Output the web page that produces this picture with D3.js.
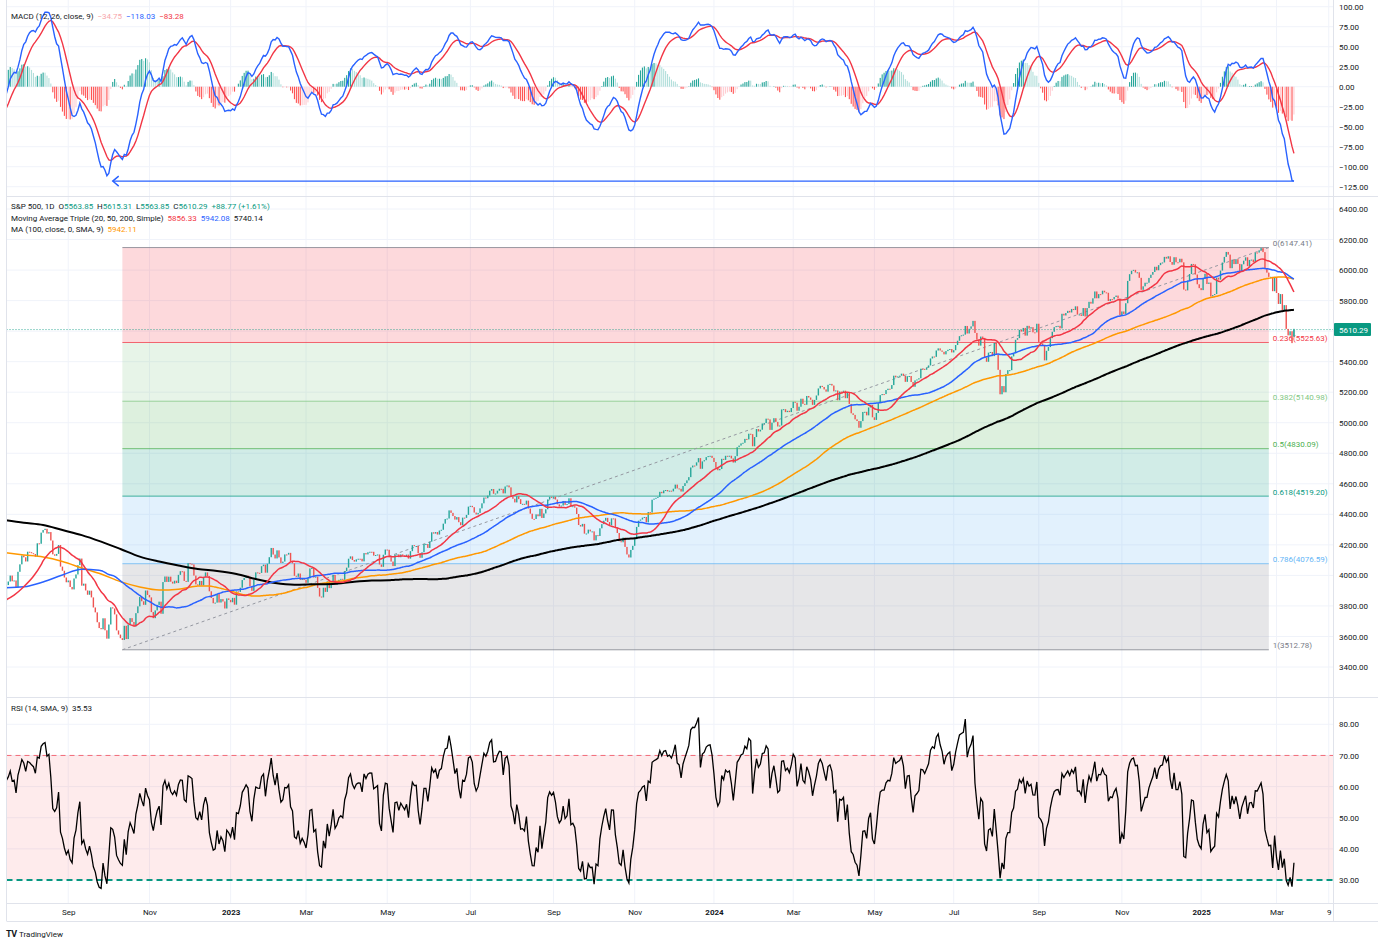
<!DOCTYPE html>
<html lang="en">
<head>
<meta charset="UTF-8">
<title>S&P 500, 1D</title>
<script src="https://d3js.org/d3.v7.min.js"></script>
<style>
  body { margin: 0; background: #fff; }
  svg text { font-family: Roboto, "Noto Sans", sans-serif; }
</style>
</head>
<body>
<script>
// ---- data -------------------------------------------------------------
// daily closes, one row per month, first bar 2022-07-18
const firstDay = '2022-07-18';
const firstOpen = 3863.16;
const holidays = ['2022-09-05','2022-11-24','2022-12-26',
  '2023-01-02','2023-01-16','2023-02-20','2023-04-07','2023-05-29','2023-06-19','2023-07-04','2023-09-04','2023-11-23','2023-12-25',
  '2024-01-01','2024-01-15','2024-02-19','2024-03-29','2024-05-27','2024-06-19','2024-07-04','2024-09-02','2024-11-28','2024-12-25',
  '2025-01-01','2025-01-09','2025-01-20','2025-02-17'];

const closes2022 = [
  3830.85,3936.69,3959.90,3998.95,3961.63,3966.84,3921.05,4023.61,4072.43,4130.29,
  4118.63,4091.19,4155.17,4151.94,4145.19,4140.06,4122.47,4210.24,4207.27,4280.15,4297.14,4305.20,4274.04,4283.74,4228.48,4137.99,4128.73,4140.77,4199.12,4057.66,4030.61,3986.16,3955.00,
  3966.85,3924.26,3908.19,3979.87,4006.18,4067.36,4110.41,3932.69,3946.01,3901.35,3873.33,3899.89,3855.93,3789.93,3757.99,3693.23,3655.04,3647.29,3719.04,3640.47,3585.62,
  3678.43,3790.93,3783.28,3744.52,3639.66,3612.39,3588.84,3577.03,3669.91,3583.07,3677.95,3719.98,3695.16,3665.78,3752.75,3797.34,3859.11,3830.60,3807.30,3901.06,3871.98,
  3856.10,3759.69,3719.89,3770.55,3806.80,3828.11,3748.57,3956.37,3992.93,3957.25,3991.73,3958.79,3946.56,3965.34,3949.94,4003.58,4027.26,4026.12,3963.94,3957.63,4080.11,
  4076.57,4071.70,3998.84,3941.26,3933.92,3963.51,3934.38,3990.56,4019.65,3995.32,3895.75,3852.36,3817.66,3821.62,3878.44,3822.39,3844.82,3829.25,3783.22,3849.28,3839.50
];
const closes2023 = [
  3824.14,3852.97,3808.10,3895.08,3892.09,3919.25,3969.61,3983.17,3999.09,3990.97,3928.86,3898.85,3972.61,4019.81,4016.95,4016.22,4060.43,4070.56,4017.77,4076.60,
  4119.21,4179.76,4136.48,4111.08,4164.00,4117.86,4081.50,4090.46,4137.29,4136.13,4147.60,4090.41,4079.09,3997.34,3991.05,4012.32,3970.04,3982.24,3970.15,
  3951.39,3981.35,4045.64,4048.42,3986.37,3992.01,3918.32,3861.59,3855.76,3919.29,3891.93,3960.28,3916.64,3951.57,4002.87,3936.97,3948.72,3970.99,3977.53,3971.27,4027.81,4050.83,4109.31,
  4124.51,4100.60,4090.38,4105.02,4109.11,4108.94,4091.95,4146.22,4137.64,4151.32,4154.87,4154.52,4129.79,4133.52,4137.04,4071.63,4055.99,4135.35,4169.48,
  4167.87,4119.58,4090.75,4061.22,4136.25,4138.12,4119.17,4137.64,4130.62,4124.08,4136.28,4109.90,4158.77,4198.05,4191.98,4192.63,4145.58,4115.24,4151.28,4205.45,4205.52,4179.83,
  4221.02,4282.37,4273.79,4283.85,4267.52,4293.93,4298.86,4338.93,4369.01,4372.59,4425.84,4409.59,4388.71,4365.69,4381.89,4348.33,4328.82,4378.41,4376.86,4396.44,4450.38,
  4455.59,4446.82,4411.59,4398.95,4409.53,4439.26,4472.16,4510.04,4505.42,4522.79,4554.98,4565.72,4534.87,4536.34,4554.64,4567.46,4566.75,4537.41,4582.23,4588.96,
  4576.73,4513.39,4501.89,4478.03,4518.44,4499.38,4467.71,4468.83,4464.05,4489.72,4437.86,4404.33,4370.36,4369.71,4399.77,4387.55,4436.01,4376.31,4405.71,4433.31,4497.63,4514.87,4507.66,
  4515.77,4496.83,4465.48,4451.14,4457.49,4487.46,4461.90,4467.44,4505.10,4450.32,4453.53,4443.95,4402.20,4330.00,4320.06,4337.44,4273.53,4274.51,4299.70,4288.05,
  4288.39,4229.45,4263.75,4258.19,4308.50,4335.66,4358.24,4376.95,4349.61,4327.78,4373.63,4373.20,4314.60,4278.00,4224.16,4217.04,4247.68,4186.77,4137.23,4117.37,4166.82,4193.80,
  4237.86,4317.78,4358.34,4365.98,4378.38,4382.78,4347.35,4415.24,4411.55,4495.70,4502.88,4508.24,4514.02,4547.38,4538.19,4556.62,4559.34,4550.43,4554.89,4550.58,4567.80,
  4594.63,4569.78,4567.18,4549.34,4585.59,4604.37,4622.44,4643.70,4707.09,4719.55,4719.19,4740.56,4768.37,4698.35,4746.75,4754.63,4774.75,4781.58,4783.35,4769.83
];
const closes2024 = [
  4742.83,4704.81,4688.68,4697.24,4763.54,4756.50,4783.45,4780.24,4783.83,4765.98,4739.21,4780.94,4839.81,4850.43,4864.60,4868.55,4894.16,4890.97,4927.93,4924.97,4845.65,
  4906.19,4958.61,4942.81,4954.23,4995.06,4997.91,5026.61,5021.84,4953.17,5000.62,5029.73,5005.57,4975.51,4981.80,5087.03,5088.80,5069.53,5078.18,5069.76,5096.27,
  5137.08,5130.95,5078.65,5104.76,5157.36,5123.69,5117.94,5175.27,5165.31,5150.48,5117.09,5149.42,5178.51,5224.62,5241.53,5234.18,5218.19,5203.58,5248.49,5254.35,
  5243.77,5205.81,5211.49,5147.21,5204.34,5202.39,5209.91,5160.64,5199.06,5123.41,5061.82,5051.41,5022.21,5011.12,4967.23,5010.60,5070.55,5071.63,5048.42,5099.96,5116.17,5035.69,
  5018.39,5064.20,5127.79,5180.74,5187.70,5187.67,5214.08,5222.68,5221.42,5246.68,5308.15,5297.10,5303.27,5308.13,5321.41,5307.01,5267.84,5304.72,5306.04,5266.95,5235.48,5277.51,
  5283.40,5291.34,5354.03,5352.96,5346.99,5360.79,5375.32,5421.03,5433.74,5431.60,5473.23,5487.03,5473.17,5464.62,5447.87,5469.30,5477.90,5482.87,5460.48,
  5475.09,5509.01,5537.02,5567.19,5572.85,5576.98,5633.91,5584.54,5615.35,5631.22,5667.20,5588.27,5544.59,5505.00,5564.41,5555.74,5427.13,5399.22,5459.10,5463.54,5436.44,5522.30,
  5446.68,5346.56,5186.33,5240.03,5199.50,5319.31,5344.16,5344.39,5434.43,5455.21,5543.22,5554.25,5608.25,5597.12,5620.85,5570.64,5634.61,5616.84,5625.80,5592.18,5591.96,5648.40,
  5528.93,5520.07,5503.41,5408.42,5471.05,5495.52,5554.13,5595.76,5626.02,5633.09,5634.58,5618.26,5713.64,5702.55,5718.57,5732.93,5722.26,5745.37,5738.17,5762.48,
  5708.75,5709.54,5699.94,5751.07,5695.94,5751.13,5792.04,5780.05,5815.03,5859.85,5815.26,5842.47,5841.47,5864.67,5853.98,5851.20,5797.42,5809.86,5808.12,5823.52,5832.92,5813.67,5705.45,
  5728.80,5712.69,5782.76,5929.04,5973.10,5995.54,6001.35,5983.99,5985.38,5949.17,5870.62,5893.62,5916.98,5917.11,5948.71,5969.34,5987.37,6021.63,5998.74,6032.38,
  6047.15,6049.88,6086.49,6075.11,6090.27,6052.85,6034.91,6084.19,6051.25,6051.09,6074.08,6050.61,5872.16,5867.08,5930.85,5974.07,6040.04,6037.59,5970.84,5906.94,5881.63
];
const closes2025 = [
  5868.55,5942.47,5975.38,5909.03,5918.25,5827.04,5836.22,5842.91,5949.91,5937.34,5996.66,6049.24,6086.37,6118.71,6101.24,6012.28,6067.70,6039.31,6071.17,6040.53,
  5994.57,6037.88,6061.48,6083.57,6025.99,6066.44,6068.50,6051.97,6115.07,6114.63,6129.58,6144.15,6117.52,6013.13,5983.25,5955.25,5956.06,5861.57,5954.50,
  5849.72,5778.15,5842.63,5738.52,5770.20,5614.56,5572.07,5599.30,5521.52,5610.29
];
const lastBar = { o: 5563.85, h: 5615.31, l: 5563.85, c: 5610.29 };

// moving averages: values before the window is full
const maSpecs = [
  { key: 'ma100', period: 100, leadStep: 10, lead: [4149,4134,4120,4091,4049,4009,3959,3924,3904,3910] },
  { key: 'sma200', period: 200, leadStep: 10, lead: [4363,4345,4330,4297,4264,4221,4173,4123,4091,4065,4042,4029,4009,3976,3950,3939,3942,3944,3957,3966] },
  { key: 'sma50', period: 50, leadStep: 10, lead: [3918,3925,3957,4003,4040] },
  { key: 'sma20', period: 20, leadStep: 5, lead: [3835,3871,3926,3994] }
];
// indicator state on the first bar
const macdSeed = { ema12: 3848, ema26: 3865, signal: -31 };
const rsiSeed = { avgGain: 31, avgLoss: 24 };

// fibonacci retracement drawing
const fibStart = '2022-10-12', fibEnd = '2025-02-25';
const fibLevels = [0, 0.236, 0.382, 0.5, 0.618, 0.786, 1];
const fibPrices = [6147.41, 5525.63, 5140.98, 4830.09, 4519.20, 4076.59, 3512.78];

// arrow drawn in the MACD pane
const macdArrow = { from: '2025-03-14', to: '2022-10-05', value: -118.03 };

const timeTicks = [['2022-09-01','Sep'],['2022-11-01','Nov'],['2023-01-03','2023'],['2023-03-01','Mar'],['2023-05-01','May'],
  ['2023-07-03','Jul'],['2023-09-01','Sep'],['2023-11-01','Nov'],['2024-01-02','2024'],['2024-03-01','Mar'],['2024-05-01','May'],
  ['2024-07-01','Jul'],['2024-09-03','Sep'],['2024-11-01','Nov'],['2025-01-02','2025'],['2025-03-03','Mar'],['2025-04-09','9']];

const macdLegend = ['−34.75', '−118.03', '−83.28'];
const ohlcLegend = [['O','5563.85'],['H','5615.31'],['L','5563.85'],['C','5610.29']];
const changeLegend = '+88.77 (+1.61%)';
const maLegend = ['5856.33', '5942.08', '5740.14'];
const ma100Legend = '5942.11';
const rsiLegend = '35.53';

// ---- derived ----------------------------------------------------------
const closes = closes2022.concat(closes2023, closes2024, closes2025);
const last = closes.length - 1;
const futureBars = 21;

const hol = new Set(holidays);
const dates = [];
for (let t = Date.parse(firstDay + 'T00:00:00Z'); dates.length < closes.length + futureBars; t += 86400000) {
  const d = new Date(t), wd = d.getUTCDay(), iso = d.toISOString().slice(0, 10);
  if (wd !== 0 && wd !== 6 && !hol.has(iso)) dates.push(iso);
}
const bar = iso => dates.indexOf(iso);

const bars = closes.map((c, i) => ({ i, o: i ? closes[i - 1] : firstOpen, c, h: null, l: null }));
Object.assign(bars[last], lastBar);

const maLines = {};
maSpecs.forEach(s => {
  const pts = s.lead.map((v, k) => [k * s.leadStep, v]);
  let sum = 0;
  closes.forEach((c, i) => {
    sum += c;
    if (i >= s.period) sum -= closes[i - s.period];
    if (i >= s.period - 1) pts.push([i, sum / s.period]);
  });
  maLines[s.key] = pts;
});

const macd = [], signal = [], hist = [];
let e12 = macdSeed.ema12, e26 = macdSeed.ema26, sig = macdSeed.signal;
closes.forEach((c, i) => {
  if (i > 0) {
    e12 += (c - e12) * 2 / 13;
    e26 += (c - e26) * 2 / 27;
  }
  const m = e12 - e26;
  if (i > 0) sig += (m - sig) * 2 / 10;
  macd.push(m); signal.push(sig); hist.push(m - sig);
});

const rsi = [];
let ag = rsiSeed.avgGain, al = rsiSeed.avgLoss;
closes.forEach((c, i) => {
  if (i > 0) {
    const ch = c - closes[i - 1];
    ag = (ag * 13 + Math.max(ch, 0)) / 14;
    al = (al * 13 + Math.max(-ch, 0)) / 14;
  }
  rsi.push(100 - 100 / (1 + ag / al));
});

// ---- layout -----------------------------------------------------------
const W = 1378, H = 944;
const axisX = 1333, plotLeft = 6.5;
const panes = {
  macd: { top: 0, bottom: 196 },
  main: { top: 197, bottom: 697 },
  rsi: { top: 698, bottom: 903 }
};
const timeBottom = 921;
const grid = '#f0f3fa', border = '#e0e3eb', txt = '#131722';
const up = '#26a69a', down = '#ef5350';
const maColors = { sma20: '#f23645', sma50: '#2962ff', sma200: '#000000', ma100: '#ff9800' };
const fibColors = ['#787b86', '#f23645', '#81c784', '#4caf50', '#089981', '#64b5f6', '#787b86'];

const svg = d3.select('body').append('svg').attr('width', W).attr('height', H);

const x = d3.scaleLinear().domain([-2.3, last + 20.2]).range([0, axisX]);
const yMacd = d3.scaleLinear().domain([-125, 100]).range([186.7, 6.7]);
const yMain = d3.scaleLinear().domain([3400, 6400]).range([667, 209]);
const yRsi = d3.scaleLinear().domain([30, 80]).range([880, 724.3]);

const defs = svg.append('defs');
Object.entries(panes).forEach(([k, p]) => {
  defs.append('clipPath').attr('id', 'clip-' + k)
    .append('rect').attr('x', plotLeft).attr('y', p.top).attr('width', axisX - plotLeft).attr('height', p.bottom - p.top);
});

const tickBars = timeTicks.map(t => bar(t[0]));

// vertical grid
svg.append('g').selectAll('line').data(tickBars).join('line')
  .attr('x1', d => x(d)).attr('x2', d => x(d)).attr('y1', 0).attr('y2', panes.rsi.bottom)
  .attr('stroke', grid);

function hGrid(scale, ticks) {
  svg.append('g').selectAll('line').data(ticks).join('line')
    .attr('x1', plotLeft).attr('x2', axisX).attr('y1', d => scale(d)).attr('y2', d => scale(d))
    .attr('stroke', grid);
}
const macdTicks = d3.range(-125, 101, 25);
const mainTicks = d3.range(3400, 6401, 200);
const rsiTicks = d3.range(30, 81, 10);
hGrid(yMacd, macdTicks);
hGrid(yMain, mainTicks);
hGrid(yRsi, rsiTicks);

// ---- MACD pane --------------------------------------------------------
const gM = svg.append('g').attr('clip-path', 'url(#clip-macd)');
gM.selectAll('rect').data(hist).join('rect')
  .attr('x', (d, i) => x(i) - 0.55).attr('width', 1.1)
  .attr('y', d => Math.min(yMacd(d), yMacd(0)))
  .attr('height', d => Math.abs(yMacd(d) - yMacd(0)))
  .attr('fill', (d, i) => {
    const p = i ? hist[i - 1] : d;
    if (d >= 0) return d >= p ? '#26a69a' : '#b2dfdb';
    return d < p ? '#ff5252' : '#ffcdd2';
  });
const lineIdx = d3.line().x((d, i) => x(i));
gM.append('path').datum(signal).attr('fill', 'none').attr('stroke', '#f23645').attr('stroke-width', 1.4)
  .attr('d', lineIdx.y(d => yMacd(d)));
gM.append('path').datum(macd).attr('fill', 'none').attr('stroke', '#2962ff').attr('stroke-width', 1.4)
  .attr('d', lineIdx.y(d => yMacd(d)));
{
  const ax = x(bar(macdArrow.to)), bx = x(bar(macdArrow.from)), ay = yMacd(macdArrow.value);
  gM.append('line').attr('x1', ax).attr('x2', bx).attr('y1', ay).attr('y2', ay)
    .attr('stroke', '#2962ff').attr('stroke-width', 1.4);
  gM.append('path').attr('d', `M${ax + 6},${ay - 5}L${ax},${ay}L${ax + 6},${ay + 5}`)
    .attr('fill', 'none').attr('stroke', '#2962ff').attr('stroke-width', 1.4);
}

// ---- main pane --------------------------------------------------------
const g = svg.append('g').attr('clip-path', 'url(#clip-main)');
const fx0 = x(bar(fibStart)), fx1 = x(bar(fibEnd));
for (let k = 0; k < fibLevels.length - 1; k++) {
  g.append('rect').attr('x', fx0).attr('width', fx1 - fx0)
    .attr('y', yMain(fibPrices[k])).attr('height', yMain(fibPrices[k + 1]) - yMain(fibPrices[k]))
    .attr('fill', fibColors[k + 1]).attr('fill-opacity', 0.19);
}
g.selectAll('line.fib').data(fibPrices).join('line').attr('class', 'fib')
  .attr('x1', fx0).attr('x2', fx1).attr('y1', d => yMain(d)).attr('y2', d => yMain(d))
  .attr('stroke', (d, k) => fibColors[k]).attr('stroke-width', 1).attr('stroke-opacity', 0.75);
g.selectAll('text.fib').data(fibPrices).join('text').attr('class', 'fib')
  .attr('x', fx1 + 4).attr('y', d => yMain(d) - 1.5)
  .attr('fill', (d, k) => fibColors[k]).attr('font-size', 8)
  .text((d, k) => `${fibLevels[k]}(${d.toFixed(2)})`);
g.append('line')
  .attr('x1', fx0).attr('y1', yMain(fibPrices[fibPrices.length - 1]))
  .attr('x2', fx1).attr('y2', yMain(fibPrices[0]))
  .attr('stroke', '#9598a1').attr('stroke-dasharray', '3,3');

// last price line
g.append('line').attr('x1', plotLeft).attr('x2', axisX)
  .attr('y1', yMain(lastBar.c)).attr('y2', yMain(lastBar.c))
  .attr('stroke', '#089981').attr('stroke-dasharray', '1,2').attr('stroke-opacity', 0.8);

// candles
g.selectAll('line.wick').data(bars.filter(b => b.h !== null)).join('line').attr('class', 'wick')
  .attr('x1', d => x(d.i)).attr('x2', d => x(d.i)).attr('y1', d => yMain(d.h)).attr('y2', d => yMain(d.l))
  .attr('stroke', d => d.c >= d.o ? up : down);
g.selectAll('rect.candle').data(bars).join('rect').attr('class', 'candle')
  .attr('x', d => x(d.i) - 0.7).attr('width', 1.4)
  .attr('y', d => yMain(Math.max(d.o, d.c)))
  .attr('height', d => Math.max(1, Math.abs(yMain(d.o) - yMain(d.c))))
  .attr('fill', d => d.c >= d.o ? up : down);

const maLine = d3.line().x(d => x(d[0])).y(d => yMain(d[1])).curve(d3.curveMonotoneX);
['ma100', 'sma200', 'sma50', 'sma20'].forEach(k => {
  g.append('path').datum(maLines[k]).attr('fill', 'none')
    .attr('stroke', maColors[k]).attr('stroke-width', k === 'sma200' ? 2 : 1.5)
    .attr('d', maLine);
});

// ---- RSI pane ---------------------------------------------------------
const gR = svg.append('g').attr('clip-path', 'url(#clip-rsi)');
gR.append('rect').attr('x', plotLeft).attr('width', axisX - plotLeft)
  .attr('y', yRsi(70)).attr('height', yRsi(30) - yRsi(70))
  .attr('fill', '#f23645').attr('fill-opacity', 0.1);
gR.append('line').attr('x1', plotLeft).attr('x2', axisX).attr('y1', yRsi(70)).attr('y2', yRsi(70))
  .attr('stroke', '#f23645').attr('stroke-opacity', 0.7).attr('stroke-dasharray', '5,4');
gR.append('line').attr('x1', plotLeft).attr('x2', axisX).attr('y1', yRsi(30)).attr('y2', yRsi(30))
  .attr('stroke', '#089981').attr('stroke-width', 2).attr('stroke-dasharray', '6,4');
gR.append('path').datum(rsi).attr('fill', 'none').attr('stroke', '#000').attr('stroke-width', 1.3)
  .attr('d', d3.line().x((d, i) => x(i)).y(d => yRsi(d)));

// ---- borders ----------------------------------------------------------
[panes.macd.bottom + 0.5, panes.main.bottom + 0.5, panes.rsi.bottom + 0.5, timeBottom + 0.5].forEach(yy => {
  svg.append('line').attr('x1', plotLeft).attr('x2', W).attr('y1', yy).attr('y2', yy).attr('stroke', border);
});
svg.append('line').attr('x1', axisX + 0.5).attr('x2', axisX + 0.5).attr('y1', 0).attr('y2', timeBottom).attr('stroke', border);
svg.append('line').attr('x1', plotLeft).attr('x2', plotLeft).attr('y1', 0).attr('y2', timeBottom).attr('stroke', border);

// ---- axes -------------------------------------------------------------
function priceAxis(scale, ticks) {
  const a = svg.append('g').attr('transform', `translate(${axisX},0)`)
    .call(d3.axisRight(scale).tickValues(ticks).tickFormat(d3.format('.2f')).tickSize(0).tickPadding(6));
  a.select('.domain').remove();
  a.attr('font-size', 8).attr('font-family', 'Roboto, sans-serif');
  a.selectAll('text').attr('fill', txt);
}
priceAxis(yMacd, macdTicks);
priceAxis(yMain, mainTicks.filter(v => Math.abs(yMain(v) - yMain(lastBar.c)) > 9));
priceAxis(yRsi, rsiTicks);

// last price tag
svg.append('rect').attr('x', axisX + 1).attr('y', yMain(lastBar.c) - 6.5).attr('width', 37).attr('height', 13)
  .attr('fill', '#089981').attr('rx', 1);
svg.append('text').attr('x', axisX + 6).attr('y', yMain(lastBar.c) + 3)
  .attr('fill', '#fff').attr('font-size', 8).text(lastBar.c.toFixed(2));

const tAxis = svg.append('g').attr('transform', `translate(0,${panes.rsi.bottom})`)
  .call(d3.axisBottom(x).tickValues(tickBars).tickFormat((d, k) => timeTicks[k][1]).tickSize(0).tickPadding(6));
tAxis.select('.domain').remove();
tAxis.attr('font-size', 8).attr('font-family', 'Roboto, sans-serif');
tAxis.selectAll('text').attr('fill', txt)
  .attr('font-weight', (d, k) => /^\d{4}$/.test(timeTicks[k][1]) ? 'bold' : 'normal');

// ---- legends ----------------------------------------------------------
function legend(yy, parts) {
  const t = svg.append('text').attr('x', 11).attr('y', yy).attr('font-size', 8).attr('fill', txt)
    .style('white-space', 'pre');
  parts.forEach(([s, c]) => t.append('tspan').attr('fill', c || txt).text(s));
}
legend(19, [['MACD (12, 26, close, 9)  '], [macdLegend[0] + '  ', '#f7a6ab'], [macdLegend[1] + '  ', '#2962ff'], [macdLegend[2], '#f23645']]);
legend(209, [['S&P 500, 1D  ']].concat(...ohlcLegend.map(([k, v]) => [[k], [v + '  ', '#089981']]), [[changeLegend, '#089981']]));
legend(221, [['Moving Average Triple (20, 50, 200, Simple)  '], [maLegend[0] + '  ', maColors.sma20], [maLegend[1] + '  ', maColors.sma50], [maLegend[2], '#131722']]);
legend(232, [['MA (100, close, 0, SMA, 9)  '], [ma100Legend, maColors.ma100]]);
legend(711, [['RSI (14, SMA, 9)  '], [rsiLegend]]);

// footer
svg.append('text').attr('x', 6).attr('y', 937).attr('font-size', 9).attr('font-weight', 'bold')
  .attr('fill', txt).attr('letter-spacing', -0.5).text('TV');
svg.append('text').attr('x', 19).attr('y', 937).attr('font-size', 8).attr('fill', txt).text('TradingView');
</script>
</body>
</html>
